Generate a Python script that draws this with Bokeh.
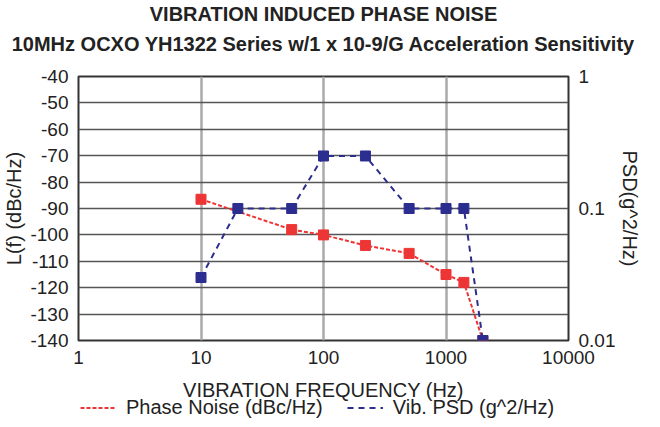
import math
from bokeh.plotting import figure
from bokeh.layouts import column
from bokeh.models import (Range1d, LogScale, LogAxis, FixedTicker, Title, Legend, LegendItem)
from bokeh.embed import file_html
from bokeh.resources import INLINE

# ---- data ----
pn_freq = [10, 55, 100, 220, 500, 1000, 1400, 2000]
pn_dbc = [-86.5, -98, -100, -104, -107, -115, -118, -140]
psd_freq = [10, 20, 55, 100, 220, 500, 1000, 1400, 2000]
psd_val = [0.03, 0.1, 0.1, 0.25, 0.25, 0.1, 0.1, 0.1, 0.01]
x_ticks = [1, 10, 100, 1000, 10000]
x_tick_labels = ["1", "10", "100", "1000", "10000"]
y_ticks = list(range(-140, -39, 10))
y_tick_labels = [str(v) for v in y_ticks]
psd_ticks = [0.01, 0.1, 1]
psd_tick_labels = ["0.01", "0.1", "1"]

FONT = "Liberation Sans"
RED = "#ee3535"
BLUE = "#2b2e8e"
TXT = "#222222"

p = figure(width=644, height=403, x_axis_type="log", x_range=(1, 10000),
           y_range=(-140, -40), output_backend="svg", toolbar_location=None,
           min_border_left=74, min_border_right=70, min_border_top=69,
           min_border_bottom=61)
p.extra_y_ranges = {"psd": Range1d(0.01, 1)}
p.extra_y_scales = {"psd": LogScale()}

p.title.text = "VIBRATION INDUCED PHASE NOISE"
p.title.text_font = FONT
p.title.text_font_size = "20px"
p.title.text_font_style = "bold"
p.title.text_color = TXT
p.title.align = "center"
p.title.standoff = 0
# spacer between the subtitle and the plot frame
p.add_layout(Title(text=" ", text_font=FONT, text_font_size="12px", standoff=0), "above")
p.add_layout(Title(text="10MHz OCXO YH1322 Series w/1 x 10-9/G Acceleration Sensitivity",
                   text_font=FONT, text_font_size="20px", text_font_style="bold",
                   text_color=TXT, align="center", standoff=12), "above")

p.outline_line_color = "#333333"
p.outline_line_width = 2
p.background_fill_color = "white"
p.border_fill_color = "white"

p.xgrid.ticker = FixedTicker(ticks=x_ticks)
p.xgrid.grid_line_color = "#aaaaaa"
p.xgrid.grid_line_width = 2.5
p.ygrid.ticker = FixedTicker(ticks=y_ticks)
p.ygrid.grid_line_color = "#555555"
p.ygrid.grid_line_width = 1.5

xa = p.xaxis[0]
xa.ticker = FixedTicker(ticks=x_ticks)
xa.major_label_overrides = {t: l for t, l in zip(x_ticks, x_tick_labels)}
xa.axis_label = "VIBRATION FREQUENCY (Hz)"

ya = p.yaxis[0]
ya.ticker = FixedTicker(ticks=y_ticks)
ya.major_label_overrides = {t: l for t, l in zip(y_ticks, y_tick_labels)}
ya.axis_label = "L(f) (dBc/Hz)"

ra = LogAxis(y_range_name="psd", ticker=FixedTicker(ticks=psd_ticks),
             axis_label="PSD(g^2/Hz)")
ra.major_label_overrides = {t: l for t, l in zip(psd_ticks, psd_tick_labels)}
p.add_layout(ra, "right")

for ax in [xa, ya, ra]:
    ax.major_label_text_font = FONT
    ax.major_label_text_font_size = "19px"
    ax.major_label_text_color = TXT
    ax.axis_label_text_font = FONT
    ax.axis_label_text_font_size = "20px"
    ax.axis_label_text_font_style = "normal"
    ax.axis_label_text_color = TXT
    ax.major_tick_line_color = None
    ax.minor_tick_line_color = None
    ax.major_tick_out = 0
    ax.major_tick_in = 0
    ax.minor_tick_out = 0
    ax.minor_tick_in = 0
    ax.axis_line_color = None
xa.major_label_standoff = 10
xa.axis_label_standoff = 12
ya.major_label_standoff = 10
ya.axis_label_standoff = 2
ra.major_label_standoff = 10
ra.axis_label_standoff = 1

p.line(pn_freq, pn_dbc, line_color=RED, line_width=2, line_dash="4 2")
p.scatter(pn_freq, pn_dbc, marker="square", size=10, fill_color=RED, line_color=RED)
p.line(psd_freq, psd_val, y_range_name="psd", line_color=BLUE, line_width=2,
       line_dash="6 5")
p.scatter(psd_freq, psd_val, y_range_name="psd", marker="square", size=10,
          fill_color=BLUE, line_color=BLUE)

# legend strip below the chart (its lines hold a single point, so only the key shows)
lg = figure(width=644, height=23, output_backend="svg", toolbar_location=None,
            x_axis_location=None, y_axis_location=None, min_border=0,
            outline_line_color=None, margin=(-7, 0, 0, 0))
lg.background_fill_color = None
lg.border_fill_color = None
lg.xgrid.visible = False
lg.ygrid.visible = False
l1 = lg.line(x=pn_freq[:1], y=pn_dbc[:1], line_color=RED, line_width=2, line_dash="4 2")
l2 = lg.line(x=psd_freq[:1], y=psd_val[:1], line_color=BLUE, line_width=2, line_dash="6 5")
legend = Legend(items=[LegendItem(label="Phase Noise (dBc/Hz)", renderers=[l1]),
                       LegendItem(label="Vib. PSD (g^2/Hz)", renderers=[l2])],
                orientation="horizontal", location=(2, 0),
                label_text_font=FONT, label_text_font_size="20px",
                label_text_color=TXT, border_line_color=None,
                background_fill_alpha=0, spacing=24, padding=0, margin=0,
                glyph_width=36, glyph_height=23, label_height=23, label_standoff=10)
lg.add_layout(legend)

layout = column(p, lg, spacing=0)
open("out.html", "w").write(file_html(layout, INLINE))
